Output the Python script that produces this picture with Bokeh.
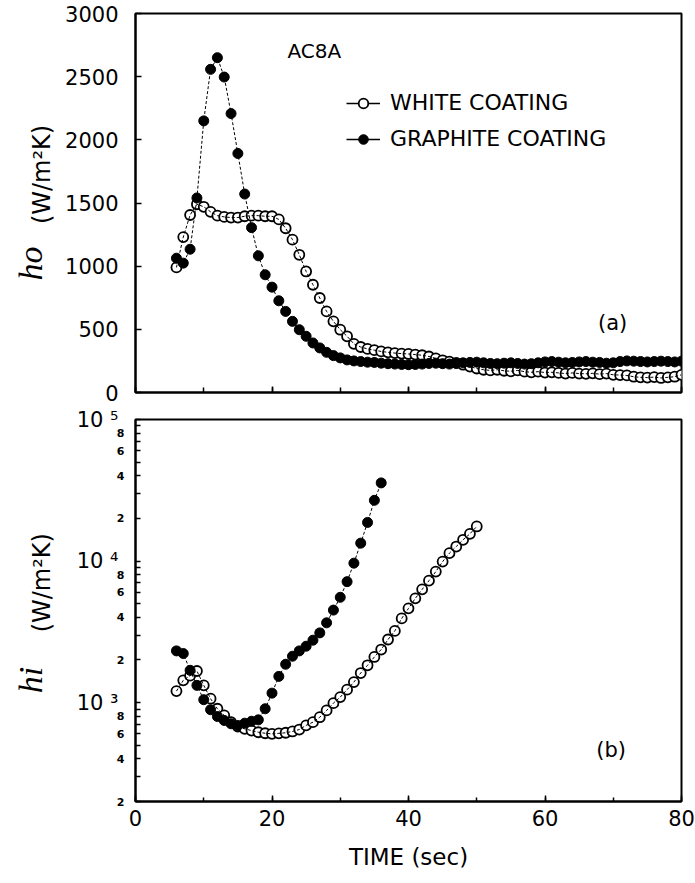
import math
from bokeh.plotting import figure
from bokeh.layouts import column, row
from bokeh.models import (SingleIntervalTicker, FixedTicker, LogAxis, Label,
                          Legend, LegendItem, CustomLabelingPolicy)
from bokeh.embed import file_html
from bokeh.resources import INLINE

# ---------------- data ----------------
time_a = [6, 7, 8, 9, 10, 11, 12, 13, 14, 15, 16, 17, 18, 19, 20, 21, 22, 23, 24, 25,
          26, 27, 28, 29, 30, 31, 32, 33, 34, 35, 36, 37, 38, 39, 40, 41, 42, 43, 44, 45,
          46, 47, 48, 49, 50, 51, 52, 53, 54, 55, 56, 57, 58, 59, 60, 61, 62, 63, 64, 65,
          66, 67, 68, 69, 70, 71, 72, 73, 74, 75, 76, 77, 78, 79, 80]

ho_white = [990, 1230, 1405, 1490, 1470, 1430, 1400, 1390, 1385, 1385, 1395, 1400, 1400,
            1395, 1395, 1370, 1300, 1210, 1090, 958, 853, 748, 642, 563, 497, 445, 385,
            360, 345, 335, 325, 318, 312, 308, 305, 300, 295, 285, 270, 255, 245, 235, 220,
            205, 190, 180, 175, 180, 172, 168, 175, 165, 160, 165, 158, 160, 155, 150, 155,
            150, 148, 152, 145, 150, 140, 138, 135, 125, 120, 118, 122, 115, 120, 125, 140]

ho_graphite = [1063, 1024, 1134, 1540, 2150, 2558, 2650, 2497, 2208, 1892, 1571, 1305, 1082,
               932, 834, 726, 642, 563, 497, 445, 392, 353, 318, 292, 274, 258, 250, 245,
               240, 238, 232, 228, 225, 222, 220, 222, 225, 230, 232, 228, 225, 230, 235,
               238, 240, 235, 230, 228, 232, 235, 230, 225, 228, 235, 242, 245, 240, 235,
               238, 242, 245, 240, 238, 232, 235, 245, 250, 248, 245, 242, 245, 248, 245,
               242, 248]

time_b_white = [6, 7, 8, 9, 10, 11, 12, 13, 14, 15, 16, 17, 18, 19, 20, 21, 22, 23, 24, 25,
                26, 27, 28, 29, 30, 31, 32, 33, 34, 35, 36, 37, 38, 39, 40, 41, 42, 43, 44,
                45, 46, 47, 48, 49, 50]
hi_white = [1205, 1436, 1550, 1672, 1323, 1065, 904, 811, 727, 677, 652, 634, 617, 607, 601,
            606, 612, 625, 645, 690, 727, 788, 880, 991, 1093, 1233, 1396, 1617, 1834, 2100,
            2370, 2790, 3210, 3930, 4630, 5450, 6310, 7270, 8420, 9910, 11370, 12660, 14130,
            15570, 17550]

time_b_graphite = [6, 7, 8, 9, 10, 11, 12, 13, 14, 15, 16, 17, 18, 19, 20, 21, 22, 23, 24,
                   25, 26, 27, 28, 29, 30, 31, 32, 33, 34, 35, 36]
hi_graphite = [2318, 2220, 1690, 1323, 1048, 890, 797, 747, 708, 688, 715, 738, 755, 904,
               1166, 1531, 1865, 2125, 2318, 2501, 2759, 3107, 3659, 4502, 5543, 7150, 9660,
               13380, 18740, 26850, 35650]

series_names = ["WHITE COATING", "GRAPHITE COATING"]

hi_digit_ticks = [200, 400, 600, 800, 2000, 4000, 6000, 8000, 20000, 40000, 60000, 80000]
hi_digit_labels = ["2", "4", "6", "8", "2", "4", "6", "8", "2", "4", "6", "8"]
hi_minor_ticks = [300, 500, 700, 900, 1000, 3000, 5000, 7000, 9000, 10000, 30000, 50000,
                  70000, 90000, 100000]
hi_decade_ticks = [1000, 10000, 100000]
hi_decade_labels = ["10 \u00b3", "10 \u2074", "10 \u2075"]

FONT = "DejaVu Sans"
MAIN_W = 635
SIDE_W = 60


def style_common(p):
    p.grid.visible = False
    p.outline_line_color = "black"
    p.outline_line_width = 2
    p.outline_line_alpha = 1
    p.background_fill_color = "white"
    p.border_fill_color = "white"
    for ax in p.xaxis + p.yaxis:
        ax.axis_line_width = 2
        ax.axis_line_color = "black"
        ax.major_tick_line_color = "black"
        ax.minor_tick_line_color = "black"
        ax.major_tick_line_width = 1.5
        ax.minor_tick_line_width = 1.5
        ax.major_tick_out = 0
        ax.minor_tick_out = 0
        ax.major_label_text_font = FONT
        ax.major_label_text_color = "black"
        ax.axis_label_text_font = FONT
        ax.axis_label_text_font_style = "normal"
        ax.axis_label_text_color = "black"


def side_figure(height, y_range, top, bottom, log=False):
    s = figure(width=SIDE_W, height=height, x_range=(0, SIDE_W), y_range=y_range,
               y_axis_type="log" if log else "linear",
               x_axis_location=None, y_axis_location=None,
               output_backend="svg", toolbar_location=None,
               min_border_left=0, min_border_right=0, min_border_top=top,
               min_border_bottom=bottom)
    s.grid.visible = False
    s.outline_line_color = None
    s.background_fill_color = "white"
    s.border_fill_color = "white"
    return s


# ---------------- top panel (a) ----------------
p1 = figure(width=MAIN_W, height=405, x_range=(0, 80), y_range=(0, 3000),
            output_backend="svg", toolbar_location=None,
            min_border_left=135 - SIDE_W, min_border_right=14, min_border_top=13,
            min_border_bottom=13)
style_common(p1)
p1.xaxis.ticker = SingleIntervalTicker(interval=20, num_minor_ticks=2)
p1.xaxis.major_tick_in = 6
p1.xaxis.minor_tick_in = 5
p1.xaxis.major_label_text_font_size = "0px"
p1.xaxis.major_label_standoff = 0
p1.xaxis.major_label_policy = CustomLabelingPolicy(
    code="for (const i of indices) { indices.unset(i) }\nreturn indices")
p1.yaxis.ticker = SingleIntervalTicker(interval=500, num_minor_ticks=0)
p1.yaxis.major_tick_in = 6
p1.yaxis.minor_tick_line_color = None
p1.yaxis.major_label_text_font_size = "21px"
p1.yaxis.major_label_standoff = 17

rw = p1.scatter(time_a, ho_white, marker="circle", size=10, fill_color="white",
                line_color="black", line_width=1.8)
p1.line(time_a, ho_white, line_color="black", line_width=1, line_dash="3 2")
p1.line(time_a, ho_graphite, line_color="black", line_width=1, line_dash="3 2")
rg = p1.scatter(time_a, ho_graphite, marker="circle", size=10, fill_color="black",
                line_color="black", line_width=1)
# solid key lines for the legend (not shown in the plot area)
kw = p1.line(time_a, ho_white, line_color="black", line_width=1.5, visible=False)
kg = p1.line(time_a, ho_graphite, line_color="black", line_width=1.5, visible=False)

legend = Legend(items=[LegendItem(label=series_names[0], renderers=[kw, rw]),
                       LegendItem(label=series_names[1], renderers=[kg, rg])],
                location=(211, 241), padding=0, margin=0, spacing=11,
                glyph_width=34, glyph_height=24, label_height=24, label_standoff=10,
                label_text_font=FONT, label_text_font_size="22px",
                label_text_color="black", background_fill_alpha=0,
                border_line_color=None, click_policy="none")
p1.add_layout(legend)

p1.add_layout(Label(x=26.2, y=2707, text="AC8A", text_font=FONT, text_font_size="20px",
                    text_align="center", text_baseline="middle", text_color="black"))
p1.add_layout(Label(x=69.9, y=554, text="(a)", text_font=FONT, text_font_size="21px",
                    text_align="center", text_baseline="middle", text_color="black"))

s1 = side_figure(405, p1.y_range, 13, 13)
s1.add_layout(Label(x=41, y=1726, text="(W/m\u00b2K)", angle=math.pi / 2,
                    text_font=FONT, text_font_size="24px", text_align="center",
                    text_baseline="alphabetic", text_color="black"))
s1.add_layout(Label(x=30, y=1021, text="ho", angle=math.pi / 2,
                    text_font="Liberation Serif", text_font_style="italic",
                    text_font_size="34px", text_align="center",
                    text_baseline="middle", text_color="black"))

# ---------------- bottom panel (b) ----------------
p2 = figure(width=MAIN_W, height=478, x_range=(0, 80), y_range=(200, 100000),
            y_axis_type="log", output_backend="svg", toolbar_location=None,
            min_border_left=135 - SIDE_W, min_border_right=14, min_border_top=14,
            min_border_bottom=82)
style_common(p2)
p2.xaxis.ticker = SingleIntervalTicker(interval=20, num_minor_ticks=2)
p2.xaxis.major_tick_in = 6
p2.xaxis.minor_tick_in = 4
p2.xaxis.major_label_text_font_size = "21px"
p2.xaxis.major_label_standoff = 8
p2.xaxis.axis_label = "TIME (sec)"
p2.xaxis.axis_label_text_font_size = "23px"
p2.xaxis.axis_label_standoff = 15

inner = p2.yaxis[0]
inner.ticker = FixedTicker(ticks=hi_digit_ticks, minor_ticks=hi_minor_ticks)
inner.major_label_overrides = dict(zip(hi_digit_ticks, hi_digit_labels))
inner.major_label_text_font_size = "11px"
inner.major_label_text_font_style = "bold"
inner.major_label_standoff = 11
inner.major_tick_in = 5
inner.minor_tick_in = 5

outer = LogAxis(ticker=FixedTicker(ticks=hi_decade_ticks, minor_ticks=[]),
                major_label_overrides=dict(zip(hi_decade_ticks, hi_decade_labels)),
                axis_line_color=None, major_tick_line_color=None,
                minor_tick_line_color=None, major_label_standoff=-11,
                major_label_text_font=FONT, major_label_text_font_size="21px",
                major_label_text_color="black")
p2.add_layout(outer, "left")

p2.scatter(time_b_white, hi_white, marker="circle", size=10, fill_color="white",
           line_color="black", line_width=1.8)
p2.line(time_b_white, hi_white, line_color="black", line_width=1, line_dash="3 2")
p2.line(time_b_graphite, hi_graphite, line_color="black", line_width=1, line_dash="3 2")
p2.scatter(time_b_graphite, hi_graphite, marker="circle", size=10, fill_color="black",
           line_color="black", line_width=1)

p2.add_layout(Label(x=69.7, y=460, text="(b)", text_font=FONT, text_font_size="21px",
                    text_align="center", text_baseline="middle", text_color="black"))

s2 = side_figure(478, p2.y_range, 14, 82, log=True)
s2.add_layout(Label(x=41, y=7030, text="(W/m\u00b2K)", angle=math.pi / 2,
                    text_font=FONT, text_font_size="24px", text_align="center",
                    text_baseline="alphabetic", text_color="black"))
s2.add_layout(Label(x=30, y=1443, text="hi", angle=math.pi / 2,
                    text_font="Liberation Serif", text_font_style="italic",
                    text_font_size="34px", text_align="center",
                    text_baseline="middle", text_color="black"))

layout = column(row(s1, p1, spacing=0), row(s2, p2, spacing=0), spacing=0)
open("out.html", "w").write(file_html(layout, INLINE))
